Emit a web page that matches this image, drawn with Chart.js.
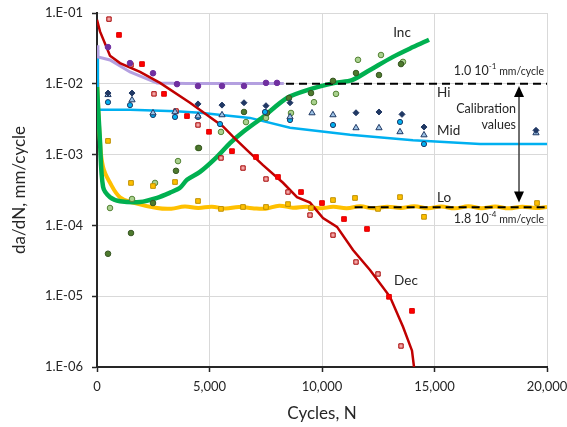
<!DOCTYPE html>
<html>
<head>
<meta charset="utf-8">
<script src="https://cdn.jsdelivr.net/npm/chart.js@4.4.1/dist/chart.umd.min.js"></script>
<style>
  body { margin: 0; background: #fff; }
  canvas { display: block; }
</style>
</head>
<body>
<canvas id="myChart" width="567" height="427"></canvas>
<script>
// axis ticks
const xTicks = [0, 5000, 10000, 15000, 20000];
const yTicks = [1e-6, 1e-5, 1e-4, 1e-3, 1e-2, 1e-1];
const yTickLabels = ['1.E-06', '1.E-05', '1.E-04', '1.E-03', '1.E-02', '1.E-01'];

// fitted curves
const decLineN = [0, 133, 578, 1022, 1911, 2800, 4133, 5600, 6044, 6667, 7378, 8267, 8889, 9467, 10044, 10667, 11378, 12133, 13022, 13600, 14000, 14089];
const decLineV = [0.08, 0.055, 0.025, 0.0196, 0.0147, 0.0103, 0.0054, 0.0025, 0.0018, 0.00116, 0.00071, 0.0004, 0.00025, 0.00021, 0.000127, 0.0000955, 0.0000449, 0.0000234, 0.0000098, 0.0000037, 0.0000017, 0.000001];

const hiLineN = [0, 40, 578, 1467, 2356, 2667, 4000, 6000, 8300];
const hiLineV = [0.035, 0.024, 0.0217, 0.0147, 0.0113, 0.0103, 0.0101, 0.0101, 0.0101];

const midLineN = [0, 40, 1467, 3500, 4578, 6800, 8578, 11244, 14044, 17022, 20000];
const midLineV = [0.03, 0.0043, 0.0043, 0.0041, 0.0039, 0.0033, 0.0024, 0.0019, 0.0016, 0.00141, 0.00141];

const loLineN = [0, 130, 270, 580, 1020, 1600, 2670, 3300, 3900, 4500, 5100, 5700, 6300, 6900, 7500, 8100, 8700, 9300, 9900, 10500, 11100, 11700, 12300, 12900, 13500, 14100, 14700, 15300, 15900, 16500, 17100, 17700, 18300, 18900, 19500, 20000];
const loLineV = [0.012, 0.0016, 0.00067, 0.0004, 0.00025, 0.00021, 0.000176, 0.000172, 0.000185, 0.000176, 0.000184, 0.000173, 0.000182, 0.000175, 0.000172, 0.00019, 0.000178, 0.000184, 0.000174, 0.000183, 0.000175, 0.000186, 0.000174, 0.000184, 0.000176, 0.000186, 0.000175, 0.000185, 0.000174, 0.000186, 0.000175, 0.000185, 0.000174, 0.000184, 0.000176, 0.000182];

const incLineN = [0, 130, 270, 580, 1020, 1911, 2670, 3244, 3689, 4000, 4578, 5333, 5911, 6500, 7378, 8444, 9378, 10578, 11333, 12133, 13156, 14044, 14756];
const incLineV = [0.009, 0.0016, 0.00035, 0.00025, 0.00022, 0.000214, 0.000245, 0.00029, 0.00034, 0.00044, 0.00057, 0.00093, 0.00145, 0.0021, 0.0034, 0.0063, 0.0082, 0.0103, 0.0113, 0.0157, 0.024, 0.033, 0.042];

// calibration reference lines
const hiRefN = [8400, 20000];
const hiRefV = [0.01, 0.01];
const loRefN = [11450, 20000];
const loRefV = [1.8e-4, 1.8e-4];

// measured points
const hiPtsN = [489, 1467, 2489, 3556, 4489, 5556, 6533, 7511, 8000];
const hiPtsV = [0.033, 0.0196, 0.0141, 0.0099, 0.0093, 0.0093, 0.0093, 0.0103, 0.0103];

const midDiaN = [489, 1556, 4489, 5556, 6533, 7511, 8578, 11511, 12533, 13556, 14533, 19511];
const midDiaV = [0.0074, 0.0074, 0.0052, 0.0050, 0.0054, 0.0049, 0.0054, 0.0039, 0.0040, 0.0037, 0.00245, 0.0022];
const midTriN = [489, 1556, 2489, 3467, 4489, 5556, 8578, 9556, 10489, 11511, 12533, 13467, 14533, 19511];
const midTriV = [0.0070, 0.0059, 0.00387, 0.0040, 0.0035, 0.00363, 0.0034, 0.00387, 0.00363, 0.00238, 0.00238, 0.00209, 0.00189, 0.00202];
const midCirN = [489, 1467, 2489, 3467, 4489, 5467, 7467, 8578, 10489, 13467, 14533];
const midCirV = [0.0055, 0.0050, 0.00363, 0.0034, 0.0034, 0.0027, 0.0040, 0.00308, 0.00262, 0.00289, 0.00141];

const loPtsN = [489, 1511, 2489, 3467, 4489, 5511, 6489, 7511, 8489, 9511, 10489, 11467, 12489, 13467, 14533, 19556];
const loPtsV = [0.00156, 0.000398, 0.00036, 0.00041, 0.000221, 0.000171, 0.000182, 0.000182, 0.0002, 0.000176, 0.000228, 0.000244, 0.000171, 0.000251, 0.000132, 0.000207];

const incDarkN = [489, 1511, 2489, 3511, 4533, 6533, 7556, 8533, 9511, 10489, 11511, 12533, 13511];
const incDarkV = [0.0000398, 0.000078, 0.000207, 0.00059, 0.00124, 0.0040, 0.00387, 0.0063, 0.0074, 0.011, 0.0142, 0.0133, 0.019];
const incLightN = [578, 1556, 2578, 3600, 4489, 5511, 6622, 7511, 8622, 9644, 10622, 11600, 12622, 13600];
const incLightV = [0.000176, 0.000236, 0.000398, 0.00081, 0.00124, 0.00209, 0.00288, 0.00329, 0.00387, 0.0055, 0.0072, 0.0218, 0.0255, 0.0204];

const decFillN = [978, 2000, 2978, 4000, 4978, 6000, 7067, 8044, 9067, 10000, 10978, 12000, 12978, 14000];
const decFillV = [0.049, 0.019, 0.0072, 0.0035, 0.0021, 0.00112, 0.000925, 0.000483, 0.000296, 0.000207, 0.000123, 0.000089, 0.0000098, 0.0000062];
const decOpenN = [533, 1511, 2533, 3511, 4489, 5511, 6489, 7511, 8489, 9467, 10489, 11511, 12489, 13511];
const decOpenV = [0.082, 0.0185, 0.0072, 0.00413, 0.00262, 0.000895, 0.000646, 0.000452, 0.000296, 0.00014, 0.000073, 0.0000304, 0.0000206, 0.00000198];

function pts(n, v) {
    return n.map((x, i) => ({ x: x, y: v[i] }));
}

function lineSet(n, v, color, width, order, extra) {
    return Object.assign({
        data: pts(n, v),
        showLine: true,
        borderColor: color,
        borderWidth: width,
        pointRadius: 0,
        fill: false,
        order: order
    }, extra || {});
}

function markerSet(n, v, style, fillColor, edge, radius) {
    return {
        data: pts(n, v),
        pointStyle: style,
        pointRadius: radius,
        backgroundColor: fillColor,
        borderColor: edge,
        borderWidth: 1,
        order: 0
    };
}

const textColor = '#262626';
const font = 'Lato, "Liberation Sans", sans-serif';

// labels and arrow drawn on the plot
const annotations = {
    id: 'annotations',
    afterDatasetsDraw(chart) {
        const { ctx, scales: { x, y } } = chart;
        ctx.save();
        ctx.fillStyle = textColor;
        ctx.textBaseline = 'middle';

        function label(text, n, v, align, size) {
            ctx.font = size + 'px ' + font;
            ctx.textAlign = align;
            ctx.fillText(text, x.getPixelForValue(n), y.getPixelForValue(v));
        }
        label('Inc', 13556, 0.052, 'center', 13.5);
        label('Hi', 15111, 0.0074, 'left', 13.5);
        label('Mid', 15111, 0.00216, 'left', 13.5);
        label('Lo', 15111, 0.00025, 'left', 13.5);
        label('Dec', 13733, 1.64e-5, 'center', 13.5);
        label('Calibration', 18622, 0.0044, 'right', 12.5);
        label('values', 18622, 0.00263, 'right', 12.5);

        // value with superscript exponent, right aligned
        function valueLabel(mant, exp, n, v) {
            const right = x.getPixelForValue(n);
            const py = y.getPixelForValue(v);
            ctx.textAlign = 'left';
            ctx.font = '12.5px ' + font;
            const w1 = ctx.measureText(mant).width;
            ctx.font = '8px ' + font;
            const w2 = ctx.measureText(exp).width;
            ctx.font = '10.5px ' + font;
            const w3 = ctx.measureText(' mm/cycle').width;
            let px = right - w1 - w2 - w3;
            ctx.font = '12.5px ' + font;
            ctx.fillText(mant, px, py);
            ctx.font = '8px ' + font;
            ctx.fillText(exp, px + w1, py - 5);
            ctx.font = '10.5px ' + font;
            ctx.fillText(' mm/cycle', px + w1 + w2, py + 0.5);
        }
        valueLabel('1.0 10', '-1', 19867, 0.0151);
        valueLabel('1.8 10', '-4', 19867, 1.23e-4);

        // double headed arrow between the calibration values
        const ax = x.getPixelForValue(18756);
        const top = y.getPixelForValue(0.0093);
        const bottom = y.getPixelForValue(2.1e-4);
        ctx.strokeStyle = '#404040';
        ctx.fillStyle = '#000';
        ctx.lineWidth = 1.5;
        ctx.beginPath();
        ctx.moveTo(ax, top + 8);
        ctx.lineTo(ax, bottom - 8);
        ctx.stroke();
        ctx.beginPath();
        ctx.moveTo(ax, top);
        ctx.lineTo(ax - 5, top + 11);
        ctx.lineTo(ax + 5, top + 11);
        ctx.closePath();
        ctx.fill();
        ctx.beginPath();
        ctx.moveTo(ax, bottom);
        ctx.lineTo(ax - 5, bottom - 11);
        ctx.lineTo(ax + 5, bottom - 11);
        ctx.closePath();
        ctx.fill();
        ctx.restore();
    }
};

const ctx = document.getElementById('myChart').getContext('2d');
const myChart = new Chart(ctx, {
    type: 'scatter',
    data: {
        datasets: [
            markerSet(hiPtsN, hiPtsV, 'circle', '#7030A0', '#7030A0', 2.8),
            markerSet(midDiaN, midDiaV, 'rectRot', '#203864', '#203864', 3),
            markerSet(midTriN, midTriV, 'triangle', '#9DC3E6', '#1F3864', 3.6),
            markerSet(midCirN, midCirV, 'circle', '#00B0F0', '#1F3864', 2.6),
            markerSet(loPtsN, loPtsV, 'rect', '#FFC000', '#BF9000', 3.3),
            markerSet(incDarkN, incDarkV, 'circle', '#4E7A2E', '#375623', 2.8),
            markerSet(incLightN, incLightV, 'circle', '#A9D18E', '#548235', 2.8),
            markerSet(decFillN, decFillV, 'rect', '#FF0000', '#E00000', 3.3),
            markerSet(decOpenN, decOpenV, 'rect', '#F4A6A6', '#A50000', 3.1),
            lineSet(hiRefN, hiRefV, '#000000', 2, 1, { borderDash: [8, 5] }),
            lineSet(loRefN, loRefV, '#000000', 2, 1, { borderDash: [8, 5] }),
            lineSet(decLineN, decLineV, '#C00000', 2.5, 2),
            lineSet(incLineN, incLineV, '#00B050', 4.5, 3, { tension: 0.3 }),
            lineSet(hiLineN, hiLineV, '#B4A0E0', 3, 4),
            lineSet(midLineN, midLineV, '#00B0F0', 2.5, 5),
            lineSet(loLineN, loLineV, '#FFC000', 4, 6, { tension: 0.4 })
        ]
    },
    options: {
        responsive: false,
        animation: false,
        layout: {
            padding: { top: 13, right: 20, left: 0, bottom: 0 }
        },
        plugins: {
            legend: { display: false },
            tooltip: { enabled: false }
        },
        scales: {
            x: {
                type: 'linear',
                min: 0,
                max: 20000,
                afterBuildTicks: (s) => { s.ticks = xTicks.map(v => ({ value: v })); },
                afterFit: (s) => {
                    s.height = 60;
                    s.paddingLeft = 0;
                    s.paddingRight = 0;
                },
                ticks: {
                    callback: (v) => v.toLocaleString('en-US'),
                    color: textColor,
                    font: { family: font, size: 13 },
                    padding: 7,
                    maxRotation: 0
                },
                grid: { color: '#d9d9d9', tickColor: '#262626', tickLength: 5, tickWidth: 1.5 },
                border: { color: '#262626', width: 2 },
                title: {
                    display: true,
                    text: 'Cycles, N',
                    color: textColor,
                    font: { family: font, size: 17 },
                    padding: { top: 0, bottom: 3 }
                }
            },
            y: {
                type: 'logarithmic',
                min: 1e-6,
                max: 0.1,
                afterBuildTicks: (s) => { s.ticks = yTicks.map(v => ({ value: v })); },
                afterFit: (s) => {
                    s.width = 97;
                    s.paddingTop = 0;
                    s.paddingBottom = 0;
                },
                ticks: {
                    callback: (v, i) => yTickLabels[i],
                    color: textColor,
                    font: { family: font, size: 13 },
                    padding: 9
                },
                grid: { color: '#d9d9d9', tickColor: '#262626', tickLength: 5, tickWidth: 1.5 },
                border: { color: '#262626', width: 2 },
                title: {
                    display: true,
                    text: 'da/dN, mm/cycle',
                    color: textColor,
                    font: { family: font, size: 17 },
                    padding: { top: 9, bottom: 0 }
                }
            }
        }
    },
    plugins: [annotations]
});
</script>
</body>
</html>
